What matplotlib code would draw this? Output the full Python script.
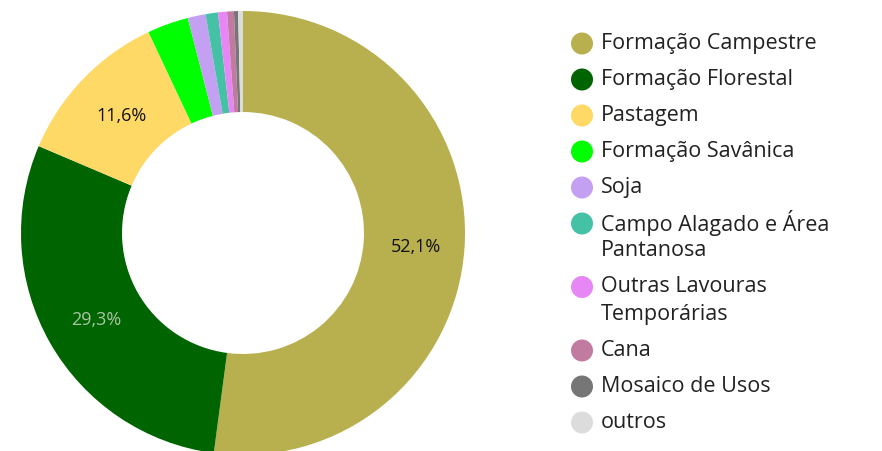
import matplotlib
matplotlib.use("Agg")
import matplotlib.pyplot as plt
import numpy as np

categories = ["Formação Campestre", "Formação Florestal", "Pastagem", "Formação Savânica",
              "Soja", "Campo Alagado e Área Pantanosa", "Outras Lavouras Temporárias",
              "Cana", "Mosaico de Usos", "outros"]
legend_labels = ["Formação Campestre", "Formação Florestal", "Pastagem", "Formação Savânica",
                 "Soja", "Campo Alagado e Área\nPantanosa", "Outras Lavouras\nTemporárias",
                 "Cana", "Mosaico de Usos", "outros"]
values = [52.1, 29.3, 11.6, 3.0, 1.3, 0.9, 0.65, 0.5, 0.3, 0.35]
colors = ["#B8AF4F", "#006400", "#FFD966", "#00FF00", "#C4A0F2", "#45C2A5",
          "#E787F5", "#C27BA0", "#767676", "#DCDCDC"]
shown_labels = {0: ("52,1%", "#111111"), 1: ("29,3%", "#A9C4A4"), 2: ("11,6%", "#111111")}

plt.rcParams['font.family'] = ['Open Sans', 'DejaVu Sans']

W, H = 882, 451
fig = plt.figure(figsize=(W / 100, H / 100), dpi=100)

cx, cy, R = 243, 233, 222
ax = fig.add_axes([(cx - R) / W, (H - cy - R) / H, 2 * R / W, 2 * R / H])
wedges, _ = ax.pie(values, colors=colors, startangle=90, counterclock=False,
                   radius=1.0, wedgeprops=dict(width=0.455, linewidth=0))
ax.set_xlim(-1, 1)
ax.set_ylim(-1, 1)
ax.set_aspect("equal")
ax.axis("off")

total = sum(values)
start = 90.0
rmid = 1.0 - 0.455 / 2
for i, v in enumerate(values):
    ang = start - 360 * v / total / 2
    if i in shown_labels:
        t, c = shown_labels[i]
        ax.text(rmid * np.cos(np.radians(ang)) + 0.01, rmid * np.sin(np.radians(ang)) - 0.01, t,
                ha="center", va="center", fontsize=13, color=c)
    start -= 360 * v / total

# legend (pixel coordinates overlay)
lax = fig.add_axes([0, 0, 1, 1])
lax.set_xlim(0, W)
lax.set_ylim(H, 0)
lax.axis("off")
y = 43.5
for lab, col in zip(legend_labels, colors):
    lines = lab.split("\n")
    lax.scatter([582], [y], s=22 ** 2 * 0.5184, color=col, edgecolors="none")
    for k, ln in enumerate(lines):
        lax.text(601, y + k * 27.5, ln, ha="left", va="center", fontsize=15.5, color="#222222")
    y += 36 + (len(lines) - 1) * 27.5

fig.savefig("out.png", dpi=100)
